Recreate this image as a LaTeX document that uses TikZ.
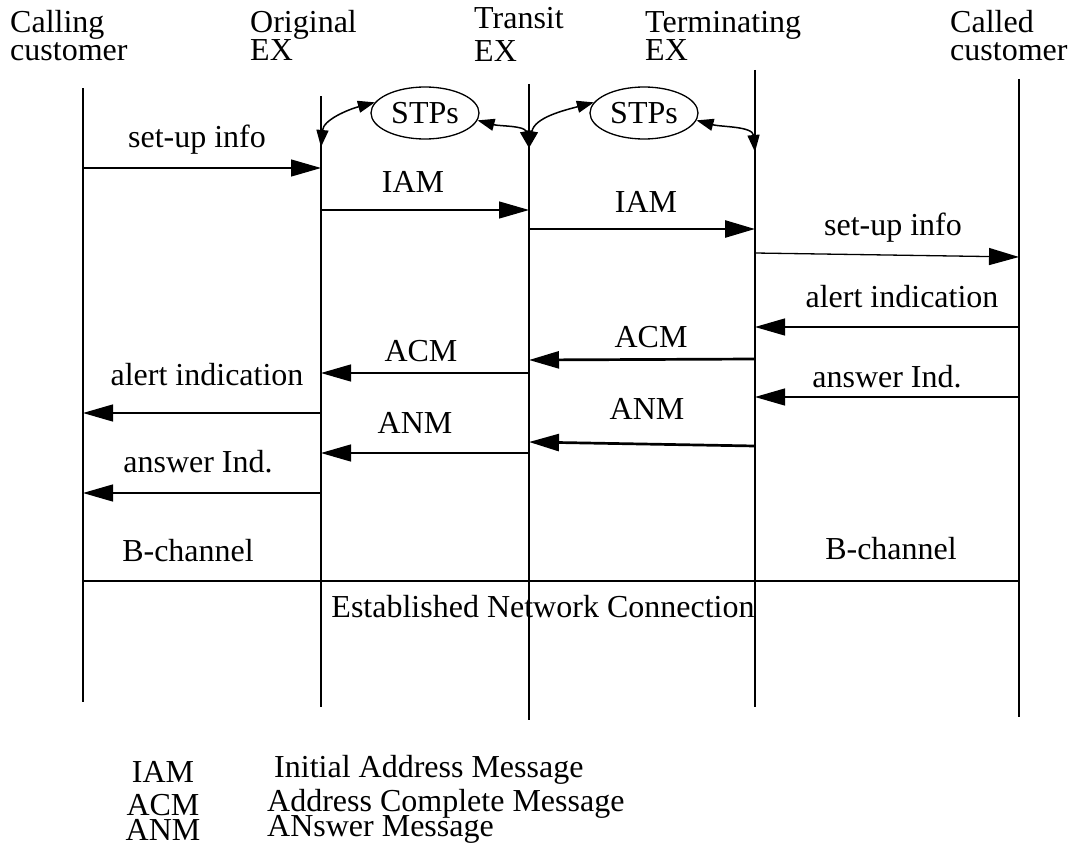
\documentclass[tikz,border=0pt]{standalone}
\usepackage{fontspec}
\setmainfont{Liberation Serif}
\usetikzlibrary{arrows.meta,shapes.geometric}

\begin{document}
\begin{tikzpicture}[x=1pt,y=-1pt,
    every node/.style={font=\fontsize{32}{28}\selectfont,inner sep=0pt},
    head/.style={align=left,anchor=base west},
    lbl/.style={anchor=base},
    life/.style={line width=1.3pt},
    msg/.style={line width=1.3pt,-{Triangle[length=30pt,width=17pt]}},
    bold msg/.style={msg,line width=2.7pt},
    stp/.style={ellipse,draw,line width=1.3pt,minimum width=108pt,minimum height=52pt},
    link/.style={line width=1.5pt,{Triangle[length=17pt,width=12pt]}-{Triangle[length=17pt,width=12pt]}}]
  \useasboundingbox (0,0) rectangle (1071,859);

  % headers
  \node[head] (hcalling) at (10,60) {Calling\\customer};
  \node[head] (horig)    at (250,60) {Original\\EX};
  \node[head] (htransit) at (474,62) {Transit\\[5pt]EX};
  \node[head] (hterm)    at (645,60) {Terminating\\EX};
  \node[head] (hcalled)  at (950,60) {Called\\customer};

  % life lines
  \coordinate (calling top) at (83,88);   \coordinate (calling bot) at (83,702);
  \coordinate (orig top)    at (321,96);  \coordinate (orig bot)    at (321,707);
  \coordinate (transit top) at (529,84);  \coordinate (transit bot) at (529,720);
  \coordinate (term top)    at (755,70);  \coordinate (term bot)    at (755,707);
  \coordinate (called top)  at (1019,79); \coordinate (called bot)  at (1019,717);
  \foreach \n in {calling,orig,transit,term,called}
    \draw[life] (\n\space top) -- (\n\space bot);

  % signalling transfer points
  \node[stp] (stp1) at (425,113) {STPs};
  \node[stp] (stp2) at (644,113) {STPs};
  \draw[link] (stp1.168) to[out=195,in=85] (orig top |- 0,147);
  \draw[link] (stp1.-8) to[out=-15,in=100] (transit top |- 0,148);
  \draw[link] (stp2.168) to[out=195,in=80] (transit top |- 0,148);
  \draw[link] (stp2.-8) to[out=-15,in=95] (term top |- 0,152);

  % messages
  \draw[msg] (calling top |- 0,168) -- (orig top |- 0,168);
  \node[lbl] (setup1) at (197,147) {set-up info};
  \draw[msg] (orig top |- 0,210) -- (transit top |- 0,210);
  \node[lbl] (iam1) at (413,192) {IAM};
  \draw[bold msg] (transit top |- 0,229) -- (term top |- 0,229);
  \node[lbl] (iam2) at (646,212) {IAM};
  \draw[msg] (term top |- 0,253) -- (called top |- 0,257);
  \node[lbl] (setup2) at (893,235) {set-up info};
  \draw[msg] (called top |- 0,327) -- (term top |- 0,327);
  \node[lbl] (alert2) at (902,307) {alert indication};
  \draw[bold msg] (term top |- 0,359) -- (transit top |- 0,360);
  \node[lbl] (acm2) at (651,347) {ACM};
  \draw[msg] (transit top |- 0,373) -- (orig top |- 0,373);
  \node[lbl] (acm1) at (421,361) {ACM};
  \draw[msg] (called top |- 0,397) -- (term top |- 0,397);
  \node[lbl] (answer2) at (887,387) {answer Ind.};
  \draw[msg] (orig top |- 0,413) -- (calling top |- 0,413);
  \node[lbl] (alert1) at (207,385) {alert indication};
  \draw[bold msg] (term top |- 0,446) -- (transit top |- 0,442);
  \node[lbl] (anm2) at (647,419) {ANM};
  \draw[msg] (transit top |- 0,453) -- (orig top |- 0,453);
  \node[lbl] (anm1) at (415,433) {ANM};
  \draw[msg] (orig top |- 0,493) -- (calling top |- 0,493);
  \node[lbl] (answer1) at (198,472) {answer Ind.};

  % bearer channel
  \draw[life] (calling top |- 0,581) -- (called top |- 0,581);
  \node[lbl] (bch1) at (188,561) {B-channel};
  \node[lbl] (bch2) at (891,559) {B-channel};
  \node[lbl] (conn) at (543,617) {Established Network Connection};

  % legend
  \node[lbl] (kiam) at (163,782) {IAM};
  \node[lbl] (kacm) at (163,815) {ACM};
  \node[lbl] (kanm) at (163,840) {ANM};
  \node[anchor=base west] (diam) at (274,777) {Initial Address Message};
  \node[anchor=base west] (dacm) at (267,811) {Address Complete Message};
  \node[anchor=base west] (danm) at (267,836) {ANswer Message};
\end{tikzpicture}
\end{document}
